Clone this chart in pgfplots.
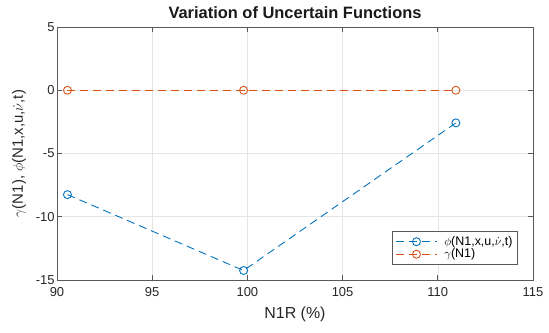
\documentclass[border=0pt]{standalone}
\usepackage{pgfplots}
\pgfplotsset{compat=1.18}
\usetikzlibrary{calc}
\usepackage{fontspec}
\setmainfont{Liberation Sans}
\definecolor{mblue}{rgb}{0,0.447,0.741}
\definecolor{morange}{rgb}{0.85,0.325,0.098}
\begin{document}
\begin{tikzpicture}
\begin{axis}[
  scale only axis,
  width=476bp, height=253bp,
  xmin=90, xmax=115, ymin=-15, ymax=5,
  xtick={90,95,...,115}, ytick={-15,-10,...,5},
  grid=major,
  grid style={gray!20, line width=0.6pt},
  tick align=inside,
  tick pos=both,
  major tick length=5bp,
  axis line style={black!65, line width=0.7pt},
  tick style={black!65, line width=0.7pt},
  /pgf/number format/assume math mode=true,
  ticklabel style={font=\fontsize{13}{15}\selectfont, color=black!85},
  xticklabel style={yshift=-4pt},
  yticklabel style={xshift=1pt},
  title={\textbf{Variation of Uncertain Functions}},
  title style={font=\fontsize{16.5}{18}\selectfont, yshift=-1pt, color=black!90},
  xlabel={N1R (\%)},
  ylabel={$\gamma$(N1), $\phi$(N1,x,u,$\dot{\nu}$,t)},
  xlabel style={font=\fontsize{16}{18}\selectfont, color=black!85, yshift=-3pt},
  ylabel style={font=\fontsize{15}{17}\selectfont, color=black!85, yshift=3pt},
  legend style={at={(0.968,0.06)}, anchor=south east, font=\fontsize{12.5}{14}\selectfont, draw=black!65, line width=0.7pt, inner xsep=3pt, inner ysep=3pt, row sep=-2pt},
  legend cell align=left,
  legend image code/.code={
    \draw[mark repeat=2, mark phase=2, #1] plot coordinates {(0cm,0cm) (0.72cm,0cm) (1.44cm,0cm)};
  },
  every axis plot/.append style={line width=0.9pt, dash pattern=on 8bp off 5bp, mark=o, mark size=4bp, mark options={solid}},
]
\coordinate (sw) at (rel axis cs:0,0);
\coordinate (ne) at (rel axis cs:1,1);
\addplot[mblue, draw=mblue] coordinates {
(90.55,-8.25) (99.8,-14.25) (110.95,-2.58)};
\addlegendentry{\hspace{5bp}$\phi$(N1,x,u,$\dot{\nu}$,t)}
\addplot[morange, draw=morange] coordinates {
(90.55,0) (99.8,0) (110.95,0)};
\addlegendentry{\hspace{5bp}$\gamma$(N1)}
\end{axis}
\pgfresetboundingbox
\path[use as bounding box] ($(sw)+(-57bp,-53bp)$) rectangle ($(ne)+(16bp,27bp)$);
\end{tikzpicture}
\end{document}
